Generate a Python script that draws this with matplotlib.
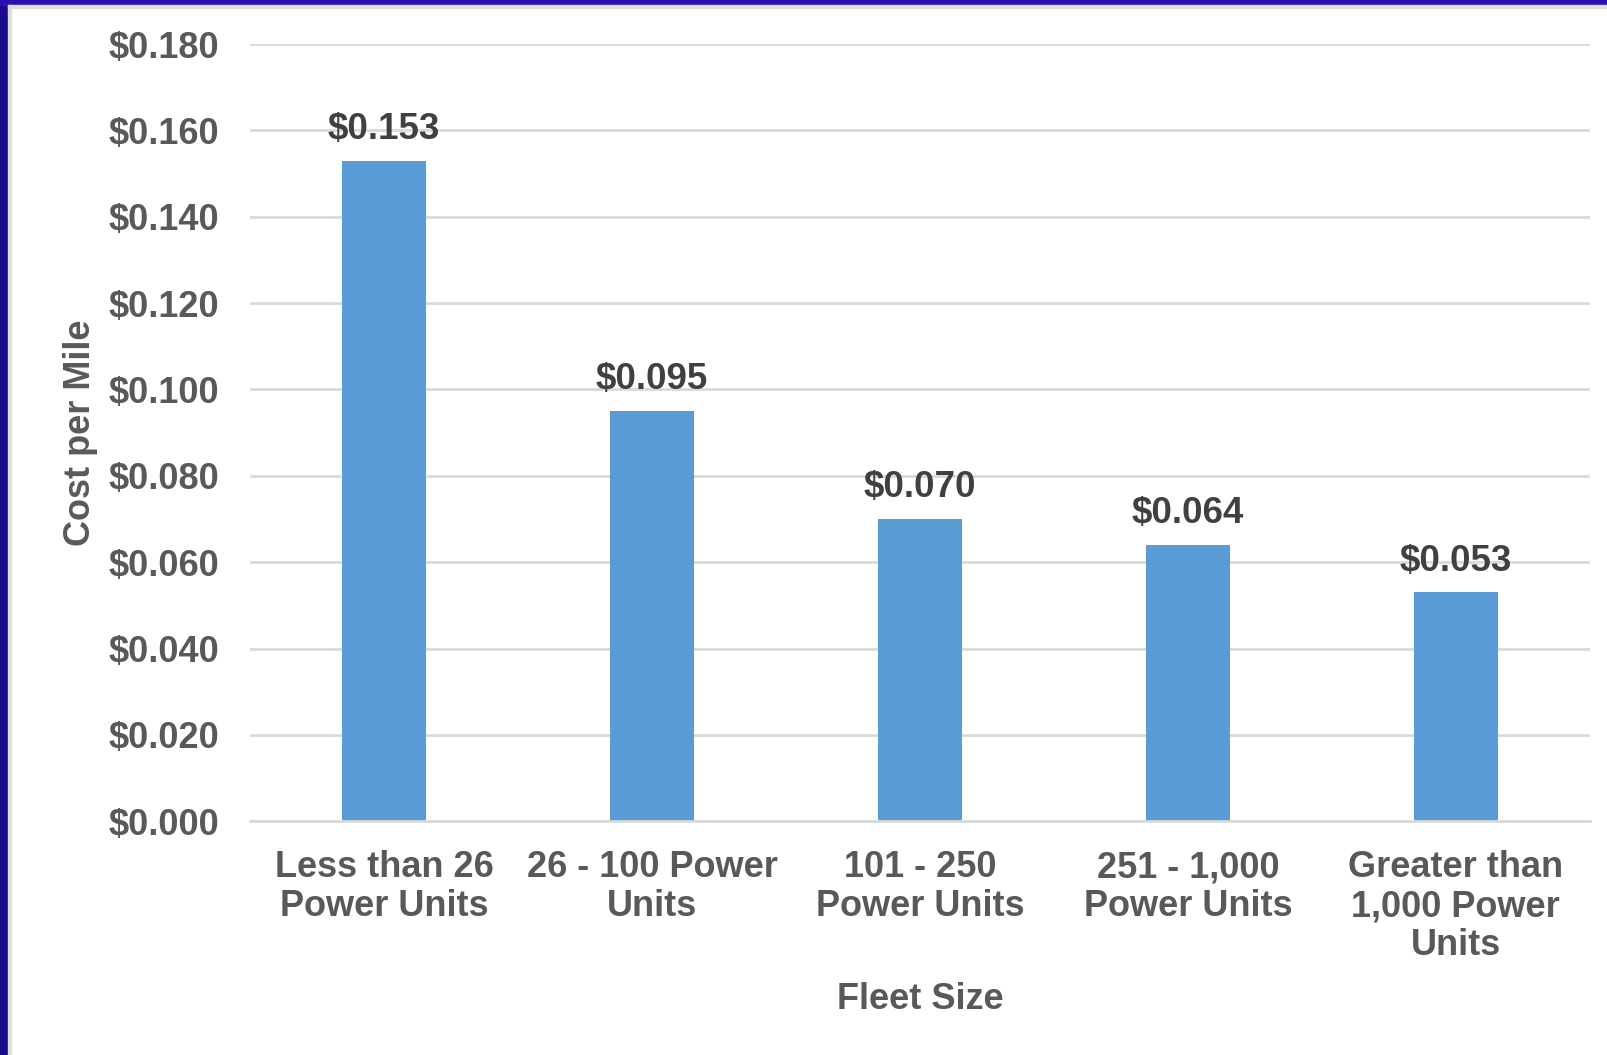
import matplotlib
matplotlib.use("Agg")
import matplotlib.pyplot as plt
from matplotlib.patches import Rectangle

categories = ["Less than 26\nPower Units", "26 - 100 Power\nUnits", "101 - 250\nPower Units",
              "251 - 1,000\nPower Units", "Greater than\n1,000 Power\nUnits"]
values = [0.153, 0.095, 0.070, 0.064, 0.053]
labels = ["$0.153", "$0.095", "$0.070", "$0.064", "$0.053"]
yticks = [0.0, 0.02, 0.04, 0.06, 0.08, 0.10, 0.12, 0.14, 0.16, 0.18]

plt.rcParams['font.family'] = ['Liberation Sans', 'DejaVu Sans']
plt.rcParams['font.weight'] = 'bold'

gray = '#595959'
fig = plt.figure(figsize=(16.08, 10.55), dpi=100)
ax = fig.add_axes([0.1556, 0.2216, 0.833, 0.7366])

x = list(range(len(categories)))
ax.bar(x, values, width=0.314, color='#5b9bd5', zorder=3)
for xi, v, lab in zip(x, values, labels):
    ax.annotate(lab, (xi, v), xytext=(0, 10), textcoords='offset points',
                ha='center', va='bottom', fontsize=26.5, fontweight='bold', color='#404040')

ax.set_xlim(-0.5, len(categories) - 0.5)
ax.set_ylim(0, 0.18)
ax.set_yticks(yticks)
ax.set_yticklabels([f"${t:.3f}" for t in yticks])
ax.set_xticks(x)
ax.set_xticklabels(categories, linespacing=1.14)
ax.tick_params(axis='both', length=0, labelsize=26, labelcolor=gray)
ax.tick_params(axis='y', pad=22)
ax.tick_params(axis='x', pad=21)
ax.grid(axis='y', color='#d9d9d9', linewidth=2, zorder=0)
for s in ['top', 'right', 'left']:
    ax.spines[s].set_visible(False)
ax.spines['bottom'].set_color('#d9d9d9')
ax.spines['bottom'].set_linewidth(2)
ax.spines['bottom'].set_zorder(4)

ax.set_xlabel("Fleet Size", fontsize=26, fontweight='bold', color=gray, labelpad=14)
ax.set_ylabel("Cost per Mile", fontsize=26, fontweight='bold', color=gray, labelpad=8)

# blue border on left and top
fig.patches.append(Rectangle((0, 0), 8 / 1608, 1, transform=fig.transFigure,
                             color='#1a0a8c', zorder=10))
fig.patches.append(Rectangle((0, 1 - 5 / 1055), 1, 5 / 1055, transform=fig.transFigure,
                             color='#2a10b0', zorder=10))
fig.patches.append(Rectangle((8 / 1608, 0), 3 / 1608, 1 - 5 / 1055, transform=fig.transFigure,
                             color='#dddddd', zorder=10))
fig.patches.append(Rectangle((8 / 1608, 1 - 8 / 1055), 1, 3 / 1055, transform=fig.transFigure,
                             color='#dddddd', zorder=10))

fig.savefig("out.png", dpi=100)
